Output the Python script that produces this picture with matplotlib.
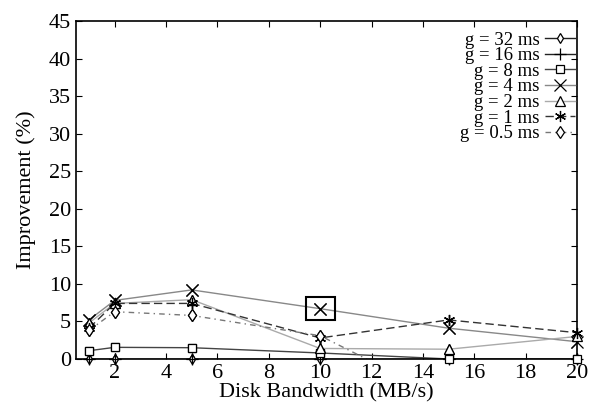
import matplotlib
matplotlib.use('Agg')
import matplotlib.pyplot as plt
import numpy as np
from matplotlib.patches import Rectangle

plt.rcParams['font.family'] = ['Liberation Serif', 'DejaVu Serif']

# disk bandwidth (MB/s)
bandwidth = [1, 2, 5, 10, 15, 20]

# improvement (%) for each time slice
imp_32ms = [0.0, 0.0, 0.0, 0.0, 0.0, 0.0]
imp_16ms = [0.0, 0.0, 0.0, 0.0, 0.0, 0.0]
imp_8ms = [1.1, 1.55, 1.5, 0.8, 0.0, 0.0]
imp_4ms = [5.2, 7.8, 9.2, 6.7, 4.1, 2.3]
imp_2ms = [4.8, 7.4, 7.9, 1.4, 1.3, 3.0]
imp_1ms = [4.1, 7.4, 7.4, 2.8, 5.2, 3.5]
imp_05ms = [3.8, 6.3, 5.8, 3.1, -5.5, -4.0]

labels = ['g = 32 ms', 'g = 16 ms', 'g = 8 ms', 'g = 4 ms',
          'g = 2 ms', 'g = 1 ms', 'g = 0.5 ms']

# point that gets boxed
highlight_x = 10
highlight_y = imp_4ms[bandwidth.index(highlight_x)]

fig = plt.figure(figsize=(5.9, 4.07), dpi=100)
ax = fig.add_axes([0.129, 0.118, 0.849, 0.830])

series = [imp_32ms, imp_16ms, imp_8ms, imp_4ms, imp_2ms, imp_1ms, imp_05ms]
styles = [
    dict(color='#222222', ls='-', marker='d', ms=5),
    dict(color='#222222', ls='-', marker='+', ms=9),
    dict(color='#444444', ls='-', marker='s', ms=6),
    dict(color='#888888', ls='-', marker='x', ms=8),
    dict(color='#aaaaaa', ls='-', marker='^', ms=7),
    dict(color='#333333', ls=(0, (6, 3)), marker=(6, 2, 0), ms=8),
    dict(color='#777777', ls=(0, (4, 3, 1, 3)), marker='d', ms=6),
]

x = np.array(bandwidth)
for vals, lab, st in zip(series, labels, styles):
    y = np.array(vals)
    mk = dict(marker=st['marker'], markersize=st['ms'],
              markerfacecolor='white', markeredgecolor='black',
              markeredgewidth=0.9)
    ax.plot(x, y, color=st['color'], linestyle=st['ls'], linewidth=1.0,
            label=lab, **mk)
    # markers sitting on the axis are drawn unclipped
    ok = y >= 0
    ax.plot(x[ok], y[ok], linestyle='none', clip_on=False, zorder=4, **mk)

# box around the highlighted point
ax.add_patch(Rectangle((highlight_x - 0.56, highlight_y - 1.5), 1.12, 3.0,
                       fill=False, edgecolor='black', linewidth=1.5,
                       zorder=5))

ax.set_xlim(0.5, 20)
ax.set_ylim(0, 45)
ax.set_xticks(range(2, 21, 2))
ax.set_yticks(range(0, 46, 5))
ax.tick_params(direction='in', top=True, right=True, length=4,
               labelsize=16)
for sp in ax.spines.values():
    sp.set_linewidth(1.2)

ax.set_xlabel('Disk Bandwidth (MB/s)', fontsize=16, labelpad=0)
ax.set_ylabel('Improvement (%)', fontsize=16, labelpad=9)

ax.legend(loc='upper right', frameon=False, markerfirst=False,
          fontsize=13.5, labelspacing=-0.08, handlelength=1.6,
          handletextpad=0.3, borderaxespad=0.0, borderpad=0.1,
          bbox_to_anchor=(1.0, 0.975))

fig.savefig('out.png')
plt.close(fig)
